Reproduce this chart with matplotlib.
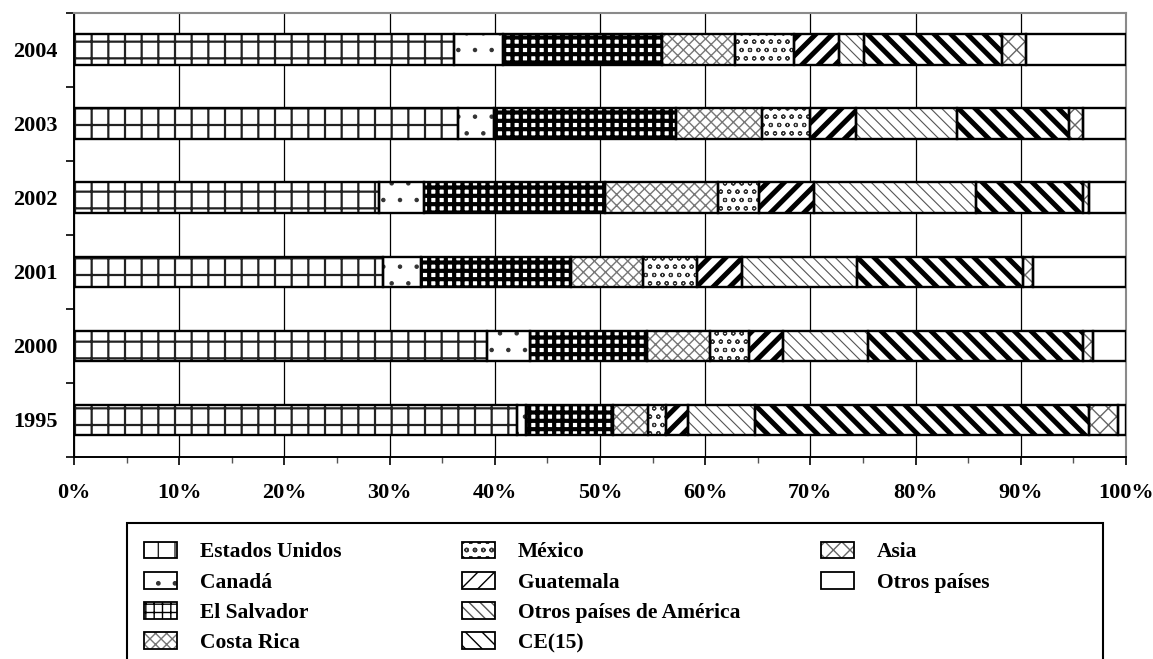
import numpy as np
import matplotlib
matplotlib.use("Agg")
from matplotlib import pyplot as plt
from matplotlib.patches import Patch, Rectangle

plt.rcParams['font.family'] = ['Liberation Serif', 'DejaVu Serif']
plt.rcParams['font.weight'] = 'bold'

anos = ["1995", "2000", "2001", "2002", "2003", "2004"]

estados_unidos = [42.1, 39.3, 29.4, 29.0, 36.5, 36.1]
canada = [0.9, 4.0, 3.6, 4.3, 3.4, 4.7]
el_salvador = [8.2, 11.2, 14.2, 17.2, 17.3, 15.1]
costa_rica = [3.4, 6.0, 6.9, 10.7, 8.2, 6.9]
mexico = [1.7, 3.7, 5.1, 3.9, 4.6, 5.6]
guatemala = [2.1, 3.2, 4.3, 5.2, 4.3, 4.3]
otros_america = [6.3, 8.1, 10.9, 15.4, 9.6, 2.4]
ce15 = [31.8, 20.4, 15.8, 10.2, 10.7, 13.1]
asia = [2.7, 1.0, 1.0, 0.6, 1.3, 2.3]
otros_paises = [0.8, 3.1, 8.8, 3.5, 4.1, 9.5]

nomes = ["Estados Unidos", "Canadá", "El Salvador", "Costa Rica", "México",
         "Guatemala", "Otros países de América", "CE(15)", "Asia", "Otros países"]
series = [estados_unidos, canada, el_salvador, costa_rica, mexico,
          guatemala, otros_america, ce15, asia, otros_paises]

# (hatch, cor do hatch, espessura do hatch, cor de fundo)
estilos = [
    ("+", "#222222", 1.6, "white"),
    (".", "#333333", 0.8, "white"),
    ("++", "black", 3.0, "white"),
    ("xxx", "#777777", 1.0, "white"),
    ("oo", "#333333", 0.8, "white"),
    ("//", "black", 3.6, "white"),
    ("\\\\\\", "#555555", 0.8, "white"),
    ("\\\\", "black", 3.6, "white"),
    ("xx", "#666666", 1.0, "white"),
    ("", "black", 1.0, "white"),
]


def poe_hatch_lw(patch, lw):
    if hasattr(patch, "set_hatch_linewidth"):
        patch.set_hatch_linewidth(lw)


fig = plt.figure(figsize=(11.53, 6.59), dpi=100)
ax = fig.add_axes([74 / 1153, 1 - 457 / 659, (1126 - 74) / 1153, (457 - 12.7) / 659])

y = np.arange(len(anos))
esquerda = np.zeros(len(anos))
altura = 0.415

for valores, (hatch, hcor, hlw, fundo) in zip(series, estilos):
    with plt.rc_context({'hatch.linewidth': hlw}):
        barras = ax.barh(y, valores, left=esquerda, height=altura, color=fundo,
                         edgecolor=hcor, linewidth=0, hatch=hatch, zorder=2)
    for b in barras:
        poe_hatch_lw(b, hlw)
    ax.barh(y, valores, left=esquerda, height=altura, color="none",
            edgecolor="black", linewidth=1.7, zorder=3)
    esquerda = esquerda + np.array(valores)

ax.set_xlim(0, 100)
ax.set_ylim(-0.5, len(anos) - 0.5)
ax.set_xticks(np.arange(0, 101, 10))
ax.set_xticks(np.arange(5, 100, 10), minor=True)
ax.set_xticklabels([f"{v}%" for v in range(0, 101, 10)], fontsize=16, fontweight="bold")
ax.set_yticks(y)
ax.set_yticklabels(anos, fontsize=16, fontweight="bold")
ax.set_yticks(np.arange(-0.5, len(anos), 1), minor=True)
ax.tick_params(axis="y", which="major", length=0, pad=12)
ax.tick_params(axis="y", which="minor", length=6, width=1.2)
ax.tick_params(axis="x", which="major", length=6, width=1.2, pad=13)
ax.tick_params(axis="x", which="minor", length=4, width=1.0, color="#555555")
ax.grid(axis="x", color="black", linewidth=0.9, zorder=0)
ax.set_axisbelow(True)
ax.spines["top"].set_color("#8a8a8a")
ax.spines["right"].set_color("#8a8a8a")
ax.spines["top"].set_linewidth(1.5)
ax.spines["right"].set_linewidth(1.5)
ax.spines["left"].set_linewidth(1.4)
ax.spines["bottom"].set_linewidth(1.4)

# caixa da legenda
fig.patches.append(Rectangle((127 / 1153, -0.05), (1103 - 127) / 1153, 0.05 + 1 - 522.5 / 659,
                             transform=fig.transFigure, facecolor="white",
                             edgecolor="black", linewidth=1.5))

handles = []
for (hatch, hcor, hlw, fundo) in estilos:
    with plt.rc_context({'hatch.linewidth': hlw}):
        p = Patch(facecolor=fundo, edgecolor=hcor, hatch=hatch, linewidth=0)
    poe_hatch_lw(p, hlw)
    contorno = Patch(facecolor="none", edgecolor="black", linewidth=1.3)
    handles.append((p, contorno))

colunas = [(0, 4, 144), (4, 8, 462), (8, 10, 821)]
for ini, fim, xpix in colunas:
    fig.legend(handles[ini:fim], nomes[ini:fim], loc="upper left",
               bbox_to_anchor=(xpix / 1153, 1 - 541.5 / 659), frameon=False,
               prop={"size": 15.5, "weight": "bold"}, handlelength=1.53,
               handleheight=0.82, handletextpad=1.05, labelspacing=0.44,
               borderpad=0, borderaxespad=0)

plt.savefig("out.png", dpi=100)
